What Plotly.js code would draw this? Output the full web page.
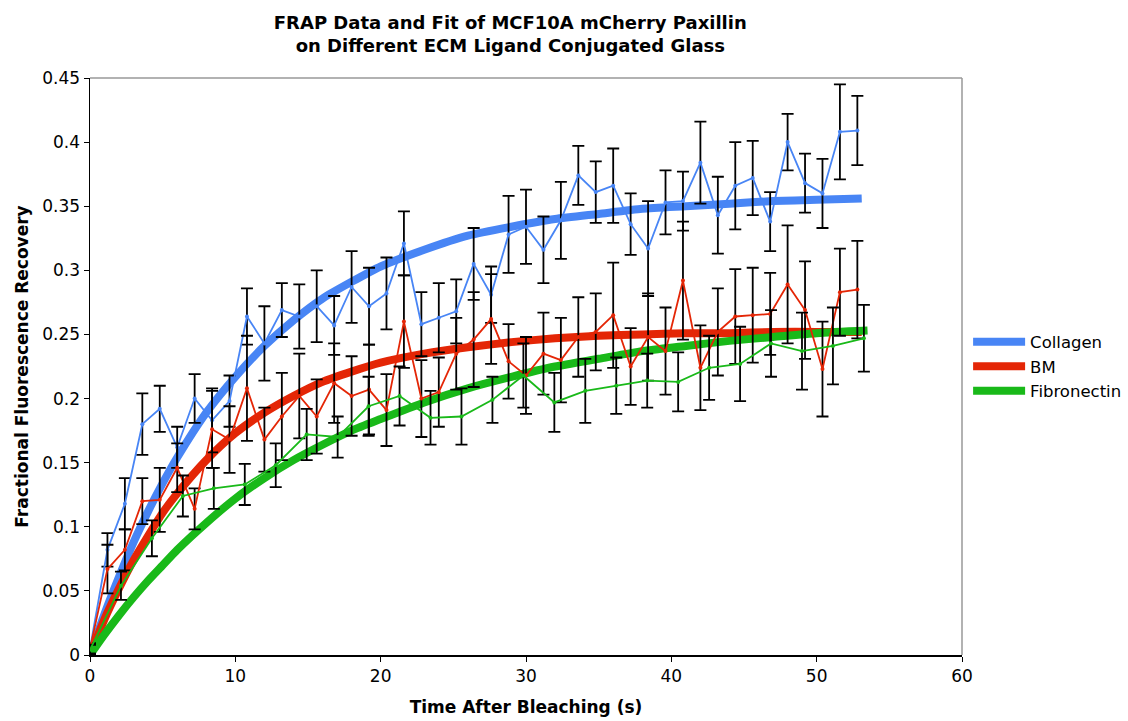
<!DOCTYPE html>
<html>
<head>
<meta charset="utf-8">
<script src="https://cdn.plot.ly/plotly-3.0.1.min.js"></script>
<style>html,body{margin:0;padding:0;background:#fff;}#chart{width:1128px;height:721px;}</style>
</head>
<body>
<div id="chart"></div>
<script>
// ---- data ----
const collagenTime = [0,1.2,2.4,3.6,4.8,6,7.2,8.4,9.6,10.8,12,13.2,14.4,15.6,16.8,18,19.2,20.4,21.6,22.8,24,25.2,26.4,27.6,28.8,30,31.2,32.4,33.6,34.8,36,37.2,38.4,39.6,40.8,42,43.2,44.4,45.6,46.8,48,49.2,50.4,51.6,52.8];
const collagenData = [0.005,0.082,0.118,0.180,0.192,0.162,0.200,0.183,0.198,0.264,0.243,0.269,0.264,0.272,0.257,0.287,0.272,0.282,0.321,0.258,0.263,0.268,0.305,0.281,0.328,0.334,0.316,0.339,0.374,0.361,0.366,0.336,0.317,0.353,0.354,0.384,0.343,0.366,0.372,0.338,0.400,0.368,0.360,0.408,0.409];
const collagenErr = [0.004,0.013,0.020,0.024,0.018,0.016,0.019,0.025,0.020,0.022,0.029,0.021,0.025,0.028,0.023,0.028,0.030,0.028,0.025,0.025,0.027,0.025,0.028,0.022,0.030,0.029,0.026,0.030,0.023,0.024,0.029,0.024,0.037,0.025,0.023,0.032,0.030,0.034,0.029,0.023,0.022,0.023,0.027,0.037,0.027];

const bmTime = [0,1.2,2.4,3.6,4.8,6,7.2,8.4,9.6,10.8,12,13.2,14.4,15.6,16.8,18,19.2,20.4,21.6,22.8,24,25.2,26.4,27.6,28.8,30,31.2,32.4,33.6,34.8,36,37.2,38.4,39.6,40.8,42,43.2,44.4,45.6,46.8,48,49.2,50.4,51.6,52.8];
const bmData = [0.005,0.067,0.082,0.120,0.121,0.146,0.114,0.176,0.168,0.208,0.168,0.186,0.202,0.186,0.212,0.202,0.207,0.191,0.260,0.200,0.205,0.235,0.246,0.262,0.229,0.218,0.235,0.230,0.248,0.252,0.265,0.225,0.248,0.237,0.292,0.224,0.252,0.264,0.265,0.266,0.289,0.269,0.223,0.283,0.285];
const bmErr = [0.004,0.019,0.016,0.018,0.025,0.019,0.016,0.030,0.026,0.041,0.025,0.034,0.033,0.029,0.031,0.031,0.035,0.028,0.036,0.030,0.027,0.028,0.037,0.035,0.029,0.030,0.032,0.033,0.031,0.030,0.041,0.030,0.034,0.034,0.046,0.033,0.034,0.037,0.037,0.032,0.046,0.038,0.037,0.034,0.038];

const fibTime = [0,2.13,4.26,6.39,8.52,10.65,12.78,14.91,17.04,19.17,21.3,23.43,25.56,27.69,29.82,31.95,34.08,36.21,38.34,40.47,42.6,44.73,46.86,48.99,51.12,53.25];
const fibData = [0.004,0.054,0.091,0.124,0.130,0.133,0.148,0.172,0.170,0.194,0.202,0.185,0.186,0.199,0.218,0.197,0.206,0.210,0.214,0.213,0.224,0.227,0.243,0.237,0.241,0.247];
const fibErr = [0.004,0.011,0.014,0.016,0.016,0.016,0.017,0.020,0.016,0.023,0.023,0.021,0.022,0.018,0.025,0.023,0.025,0.022,0.021,0.023,0.025,0.029,0.026,0.030,0.030,0.026];

const fitTime = [0,1,2,3,4,5,6,8,10,12,14,16,18,20,23,26,29,32,35,38,41,44,47,50,53.1];
const collagenFit = [0,0.032,0.061,0.088,0.112,0.134,0.154,0.189,0.217,0.241,0.261,0.278,0.291,0.303,0.316,0.327,0.334,0.340,0.344,0.348,0.350,0.352,0.354,0.355,0.356];
const bmFit = [0,0.028,0.052,0.074,0.093,0.111,0.126,0.152,0.173,0.189,0.202,0.213,0.221,0.228,0.235,0.240,0.244,0.247,0.249,0.250,0.251,0.251,0.252,0.252,0.252];
const fibFitTime = [0,1,2,3,4,5,6,8,10,12,14,16,18,20,23,26,29,32,35,38,41,44,47,50,53.5];
const fibFit = [0,0.016,0.031,0.045,0.058,0.070,0.082,0.103,0.122,0.138,0.152,0.164,0.175,0.184,0.197,0.208,0.217,0.225,0.231,0.237,0.241,0.245,0.248,0.251,0.253];

const seriesNames = ['Collagen','BM','Fibronectin'];
const xTicks = [0,10,20,30,40,50,60];
const yTicks = [0,0.05,0.1,0.15,0.2,0.25,0.3,0.35,0.4,0.45];
const yTickText = ['0','0.05','0.1','0.15','0.2','0.25','0.3','0.35','0.4','0.45'];

// ---- styles ----
const COL = {blue:'rgb(72,133,245)', red:'rgb(228,38,6)', green:'rgb(25,185,25)'};
const FONT = 'DejaVu Sans, Verdana, sans-serif';

function fitTrace(x, y, name, color){
  return {x:x, y:y, name:name, type:'scatter', mode:'lines',
    line:{color:color, width:8, shape:'spline', smoothing:0.6}, showlegend:true, hoverinfo:'skip'};
}
function dataTrace(x, y, err, color){
  return {x:x, y:y, type:'scatter', mode:'lines+markers', showlegend:false,
    line:{color:color, width:1.8}, marker:{color:color, size:4},
    error_y:{type:'data', array:err, visible:true, color:'#000', thickness:1.8, width:6}};
}

const traces = [
  fitTrace(fitTime, collagenFit, seriesNames[0], COL.blue),
  fitTrace(fitTime, bmFit, seriesNames[1], COL.red),
  fitTrace(fibFitTime, fibFit, seriesNames[2], COL.green),
  dataTrace(collagenTime, collagenData, collagenErr, COL.blue),
  dataTrace(bmTime, bmData, bmErr, COL.red),
  dataTrace(fibTime, fibData, fibErr, COL.green)
];

const layout = {
  width:1128, height:721,
  paper_bgcolor:'#fff', plot_bgcolor:'#fff',
  margin:{l:90, r:166, t:78, b:66, autoexpand:false},
  font:{family:FONT, size:16, color:'#000'},
  title:{text:'<b>FRAP Data and Fit of MCF10A mCherry Paxillin<br>on Different ECM Ligand Conjugated Glass</b>',
    font:{family:FONT, size:18, color:'#000'}, x:0.482, xref:'paper', xanchor:'center',
    y:1-29/721, yref:'container', yanchor:'top'},
  xaxis:{range:[0,60], tickvals:xTicks, ticktext:xTicks.map(String), showgrid:false, zeroline:false,
    showline:true, linecolor:'#000', linewidth:1.5, ticks:'outside', ticklen:5, tickcolor:'#000',
    tickfont:{family:FONT, size:17}, automargin:false,
    title:{text:'<b>Time After Bleaching (s)</b>', font:{family:FONT, size:17}, standoff:16}},
  yaxis:{range:[0,0.45], tickvals:yTicks, ticktext:yTickText, showgrid:false, zeroline:false,
    showline:true, linecolor:'#000', linewidth:1.5, ticks:'outside', ticklen:5, tickcolor:'#000',
    tickfont:{family:FONT, size:17}, automargin:false,
    title:{text:'<b>Fractional Fluorescence Recovery</b>', font:{family:FONT, size:17}, standoff:9}},
  legend:{x:1.007, xanchor:'left', y:0.5, yanchor:'middle', font:{family:FONT, size:16.5},
    bgcolor:'rgba(0,0,0,0)', itemwidth:52, tracegroupgap:0},
  shapes:[
    {type:'line', xref:'paper', yref:'paper', x0:0, x1:1, y0:1, y1:1, line:{color:'#999', width:1.5}},
    {type:'line', xref:'paper', yref:'paper', x0:1, x1:1, y0:0, y1:1, line:{color:'#999', width:1.5}}
  ],
  showlegend:true
};

Plotly.newPlot('chart', traces, layout, {displayModeBar:false, staticPlot:true});
</script>
</body>
</html>
